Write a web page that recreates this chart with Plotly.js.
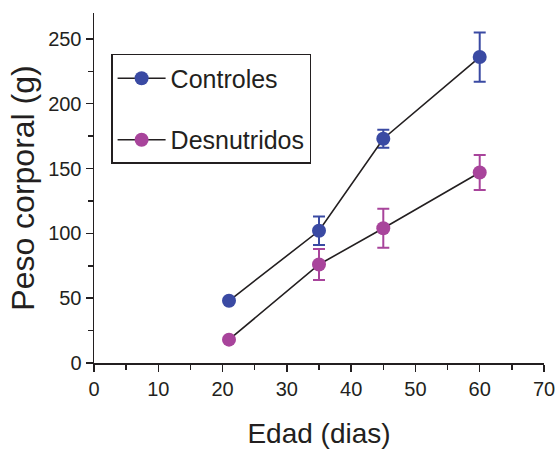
<!DOCTYPE html>
<html>
<head>
<meta charset="utf-8">
<script src="https://cdn.plot.ly/plotly-3.0.1.min.js"></script>
<style>html,body{margin:0;padding:0;background:#fff;}#chart{width:560px;height:453px;}</style>
</head>
<body>
<div id="chart"></div>
<script>
const ages = [21, 35, 45, 60];
const controles = [48, 102, 173, 236];
const controlesErr = [0, 11, 7, 19];
const desnutridos = [18, 76, 104, 147];
const desnutridosErr = [0, 12, 15, 13.5];
const seriesNames = ["Controles", "Desnutridos"];
const xTicks = [0, 10, 20, 30, 40, 50, 60, 70];
const yTicks = [0, 50, 100, 150, 200, 250];

const FONT = "'Liberation Sans', Arial, Helvetica, sans-serif";
const TXT = "#231f20";
const BLUE = "#3a4aa3";
const MAG = "#a8449b";

function trace(name, y, err, color, group) {
  return {
    x: ages, y: y, name: name, type: "scatter", mode: "lines+markers",
    legendgroup: group,
    line: {color: "#231f20", width: 1.6},
    marker: {color: color, size: 14, symbol: "circle"},
    error_y: {type: "data", array: err, visible: true, color: color, thickness: 2, width: 6}
  };
}

const data = [
  trace(seriesNames[0], controles, controlesErr, BLUE, "a"),
  trace(seriesNames[1], desnutridos, desnutridosErr, MAG, "b")
];

const layout = {
  width: 560, height: 453,
  margin: {l: 94, r: 16, t: 13, b: 90},
  paper_bgcolor: "#fff", plot_bgcolor: "#fff",
  font: {family: FONT, color: TXT},
  showlegend: true,
  legend: {
    x: 0.038, y: 0.883, xanchor: "left", yanchor: "top",
    bordercolor: TXT, borderwidth: 1.5, bgcolor: "rgba(0,0,0,0)",
    font: {family: FONT, size: 25, color: TXT},
    itemwidth: 48,
    traceorder: "grouped", tracegroupgap: 26
  },
  xaxis: {
    range: [0, 70], tickvals: xTicks, ticktext: xTicks.map(String),
    showline: true, linecolor: TXT, linewidth: 1.5,
    ticks: "outside", ticklen: 7, tickwidth: 1.5, tickcolor: TXT,
    minor: {dtick: 5, ticks: "outside", ticklen: 5, tickwidth: 1.5, tickcolor: TXT, showgrid: false},
    showgrid: false, zeroline: false,
    tickfont: {family: FONT, size: 20, color: TXT},
    title: {text: "Edad (dias)", font: {family: FONT, size: 28, color: TXT}, standoff: 25}
  },
  yaxis: {
    range: [0, 270], tickvals: yTicks, ticktext: yTicks.map(String),
    showline: true, linecolor: TXT, linewidth: 1.5,
    ticks: "outside", ticklen: 7, tickwidth: 1.5, tickcolor: TXT,
    minor: {dtick: 25, ticks: "outside", ticklen: 5, tickwidth: 1.5, tickcolor: TXT, showgrid: false},
    showgrid: false, zeroline: false,
    tickfont: {family: FONT, size: 20, color: TXT},
    title: {text: "Peso corporal (g)", font: {family: FONT, size: 32, color: TXT}, standoff: 4}
  }
};

Plotly.newPlot("chart", data, layout, {displayModeBar: false, staticPlot: true});
</script>
</body>
</html>
